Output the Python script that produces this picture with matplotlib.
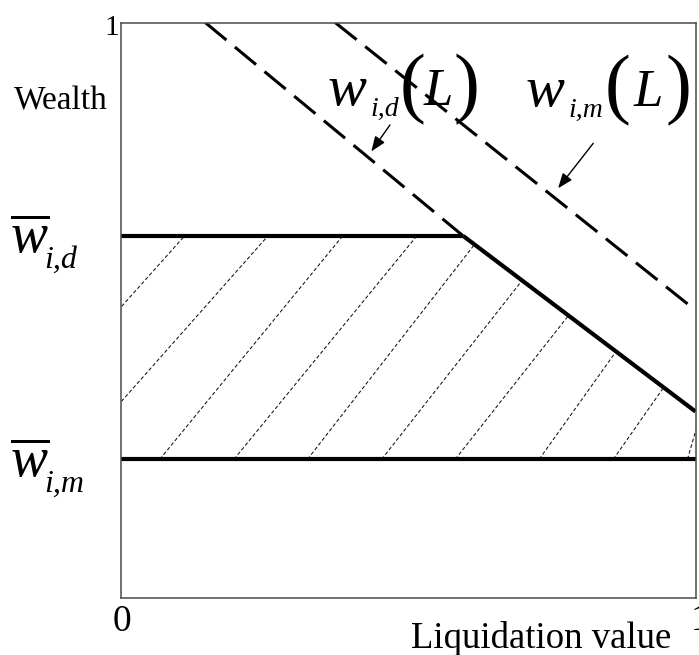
import matplotlib
matplotlib.use("Agg")
import matplotlib.pyplot as plt
from matplotlib.patches import Polygon

plt.rcParams["font.family"] = "Liberation Serif"
plt.rcParams["mathtext.fontset"] = "custom"
plt.rcParams["mathtext.rm"] = "Liberation Serif"
plt.rcParams["mathtext.it"] = "Liberation Serif:italic"

W, H = 699, 655

# wealth thresholds
w_bar_d = 0.629
w_bar_m = 0.241

# w_{i,d}(L): dashed part above the threshold, solid part below it
w_d_dash_x = [0.147, 0.596]
w_d_dash_y = [1.0, 0.629]
w_d_solid_x = [0.596, 1.0]
w_d_solid_y = [0.629, 0.324]

# w_{i,m}(L)
w_m_x = [0.373, 1.0]
w_m_y = [1.0, 0.500]

# hatch strokes: x where each stroke meets the lower and upper threshold
hatch_bottom_x = [-0.236, -0.088, 0.068, 0.197, 0.325, 0.454, 0.582, 0.728, 0.857, 0.986]
hatch_top_x = [0.111, 0.256, 0.386, 0.515, 0.627, 0.759, 0.888, 1.005, 1.129, 1.098]


def px(x, y):
    return x / W, 1 - y / H


def curve_label(x_w, base, sub, x_sub, x_lp, x_l, x_rp):
    # w_{sub}(L) built from pieces so the parentheses can be taller
    fig.text(*px(x_w, base), "w", fontsize=42, style="italic", ha="left", va="baseline")
    fig.text(*px(x_sub, base + 11), sub, fontsize=20, style="italic", ha="left", va="baseline")
    fig.text(*px(x_lp, base + 3), "(", fontsize=56, ha="center", va="baseline")
    fig.text(*px(x_l, base), "L", fontsize=38, style="italic", ha="center", va="baseline")
    fig.text(*px(x_rp, base + 3), ")", fontsize=56, ha="center", va="baseline")


fig = plt.figure(figsize=(W / 100, H / 100), dpi=100)
ax = fig.add_axes([120.7 / W, 1 - 598 / H, 574.8 / W, 575.5 / H])
ax.set_xlim(0, 1)
ax.set_ylim(0, 1)
ax.set_xticks([])
ax.set_yticks([])
for s in ax.spines.values():
    s.set_linewidth(1.1)
    s.set_color("#4a4a4a")

# shaded region between the two thresholds, capped by w_{i,d}(L)
region = Polygon(
    [(0, w_bar_m), (1, w_bar_m), (w_d_solid_x[1], w_d_solid_y[1]),
     (w_d_solid_x[0], w_d_solid_y[0]), (0, w_bar_d)],
    closed=True, fill=False, edgecolor="none",
)
ax.add_patch(region)
for xb, xt in zip(hatch_bottom_x, hatch_top_x):
    (ln,) = ax.plot([xb, xt], [w_bar_m, w_bar_d], color="#111111",
                    lw=0.75, dashes=(3.5, 2.2))
    ln.set_clip_path(region)

ax.plot([0, w_d_solid_x[0]], [w_bar_d, w_bar_d], color="black", lw=3.0,
        solid_capstyle="butt")
ax.plot([0, 1], [w_bar_m, w_bar_m], color="black", lw=3.0,
        solid_capstyle="butt")
ax.plot(w_d_solid_x, w_d_solid_y, color="black", lw=3.0,
        solid_capstyle="butt")
ax.plot(w_d_dash_x, w_d_dash_y, color="black", lw=2.2, dashes=(9, 3.6),
        dash_capstyle="butt")
ax.plot(w_m_x, w_m_y, color="black", lw=2.2, dashes=(9, 3.6),
        dash_capstyle="butt")

arrow = dict(arrowstyle="-|>,head_length=0.9,head_width=0.35", color="black",
             lw=1.0, shrinkA=0, shrinkB=0)
ax.annotate("", xy=(0.436, 0.776), xytext=(0.4685, 0.822), arrowprops=arrow)
ax.annotate("", xy=(0.761, 0.712), xytext=(0.822, 0.790), arrowprops=arrow)

# curve labels
curve_label(328, 105, "i,d", 370, 412.5, 438, 466.5)
curve_label(526, 106, "i,m", 568, 618, 648.5, 678)

# threshold labels on the wealth axis
fig.text(*px(10, 253), r"$\overline{w}$", fontsize=40, ha="left", va="baseline")
fig.text(*px(44, 268), "i,d", fontsize=23, style="italic", ha="left", va="baseline")
fig.text(*px(10, 477), r"$\overline{w}$", fontsize=40, ha="left", va="baseline")
fig.text(*px(44, 492), "i,m", fontsize=23, style="italic", ha="left", va="baseline")

fig.text(*px(108, 110), "Wealth", fontsize=24, ha="right", va="baseline")
fig.text(*px(119, 35), "1", fontsize=21, ha="right", va="baseline")
fig.text(*px(122, 631), "0", fontsize=27, ha="center", va="baseline")
fig.text(*px(691, 630), "1", fontsize=27, ha="left", va="baseline")
fig.text(*px(411, 648), "Liquidation value", fontsize=26.5, ha="left", va="baseline")

fig.savefig("out.png", dpi=100)
